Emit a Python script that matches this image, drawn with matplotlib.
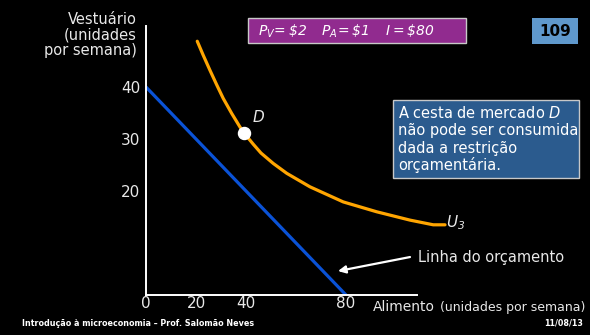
import matplotlib
matplotlib.use("Agg")
import matplotlib.pyplot as plt
from matplotlib.patches import Rectangle

# ---- data ----
budget_x = [0, 80]
budget_y = [40, 0]
u3_x = [20.5, 22.9, 25.6, 28.3, 30.9, 34.3, 37.6, 39.3, 42.9, 46.0, 50.9, 56.3, 65.6, 78.9, 92.3, 105.6, 114.9, 119.6]
u3_y = [48.8, 46.1, 43.2, 40.4, 37.8, 34.9, 32.3, 31.1, 29.0, 27.3, 25.3, 23.4, 20.8, 17.9, 16.0, 14.4, 13.5, 13.5]
point_d = (39.3, 31.1)
xticks = [0, 20, 40, 80]
yticks = [20, 30, 40]

plt.rcParams['font.family'] = ['DejaVu Sans']
plt.rcParams['mathtext.fontset'] = 'custom'
plt.rcParams['mathtext.rm'] = 'DejaVu Sans:italic'
plt.rcParams['mathtext.it'] = 'DejaVu Sans:italic'
plt.rcParams['mathtext.bf'] = 'DejaVu Sans:bold'

W, H = 590, 335
fig = plt.figure(figsize=(W / 100, H / 100), dpi=100)
fig.patch.set_facecolor("black")


def fx(px):
    return px / W


def fy(py):
    return 1 - py / H


ax = fig.add_axes([146 / W, 40 / H, 125 * 2.5 / W, 55 * 5.2 / H])
ax.set_facecolor("black")
ax.set_xlim(0, 125)
ax.set_ylim(0, 55)
for s in ("top", "right"):
    ax.spines[s].set_visible(False)
for s in ("left", "bottom"):
    ax.spines[s].set_color("white")
    ax.spines[s].set_linewidth(1.4)
ax.spines["left"].set_bounds(0, 51.7)
ax.spines["bottom"].set_bounds(0, 108.4)
ax.set_xticks(xticks)
ax.set_yticks(yticks)
ax.set_xticklabels([str(v) for v in xticks])
ax.set_yticklabels([str(v) for v in yticks])
ax.tick_params(length=0, colors="#e8e8e8", labelsize=11)
ax.tick_params(axis="x", pad=1)
ax.tick_params(axis="y", pad=4)

ax.plot(budget_x, budget_y, color="#0a52d6", lw=2.3, solid_capstyle="butt")
ax.plot(u3_x, u3_y, color="#ffa500", lw=2.3, clip_on=False,
        solid_joinstyle="round", solid_capstyle="round")
ax.scatter([point_d[0]], [point_d[1]], s=75, color="white", zorder=5, clip_on=False)
ax.text(point_d[0] + 5.6, point_d[1] + 3.0, "D", color="#e8e8e8", fontsize=11,
        style="italic", ha="center", va="center")
ax.text(120.0, 14.0, r"$U_3$", color="#e8e8e8", fontsize=11, ha="left", va="center")

ax.annotate("", xy=(76.8, 4.6), xytext=(105.6, 7.3),
            arrowprops=dict(arrowstyle="-|>", color="white", lw=1.6,
                            mutation_scale=11, shrinkA=0, shrinkB=0))
ax.text(108.8, 7.3, "Linha do orçamento", color="#e8e8e8", fontsize=10.5,
        ha="left", va="center")

# axis titles
fig.text(fx(137), fy(12), "Vestuário\n(unidades\npor semana)", color="#e8e8e8",
         fontsize=10.5, ha="right", va="top", linespacing=1.05)
fig.text(fx(373), fy(311), "Alimento", color="#e8e8e8", fontsize=10,
         ha="left", va="baseline")
fig.text(fx(440), fy(311), "(unidades por semana)", color="#e8e8e8", fontsize=9,
         ha="left", va="baseline")

# purple price box
fig.patches.append(Rectangle((fx(248), fy(43)), (466 - 248) / W, 25 / H,
                             transform=fig.transFigure, facecolor="#912b8f",
                             edgecolor="#c8c8c8", lw=1.0))
fig.text(fx(258), fy(31),
         r"$P_V\!=\$2\quad\,P_A\!=\$1\quad\,I=\$80$",
         color="white", fontsize=10, ha="left", va="center")

# slide number box
fig.patches.append(Rectangle((fx(532), fy(44)), 46 / W, 26 / H,
                             transform=fig.transFigure, facecolor="#5f98cc",
                             edgecolor="none"))
fig.text(fx(555), fy(31), "109", color="black", fontsize=11, fontweight="bold",
         ha="center", va="center")

# info box
fig.patches.append(Rectangle((fx(393), fy(178)), (579 - 393) / W, 78 / H,
                             transform=fig.transFigure, facecolor="#2b5b8e",
                             edgecolor="#c8c8c8", lw=1.0))
info_lines = ["A cesta de mercado $\\mathit{D}$", "não pode ser consumida",
              "dada a restrição", "orçamentária."]
for i, line in enumerate(info_lines):
    fig.text(fx(398), fy(113 + i * 17.5), line, color="white", fontsize=10.5,
             ha="left", va="center")

# footer
fig.text(fx(22), fy(323), "Introdução à microeconomia – Prof. Salomão Neves",
         color="white", fontsize=5.8, fontweight="bold", ha="left", va="center")
fig.text(fx(583), fy(323), "11/08/13", color="white", fontsize=5.8,
         fontweight="bold", ha="right", va="center")

fig.savefig("out.png", dpi=100, facecolor="black")
